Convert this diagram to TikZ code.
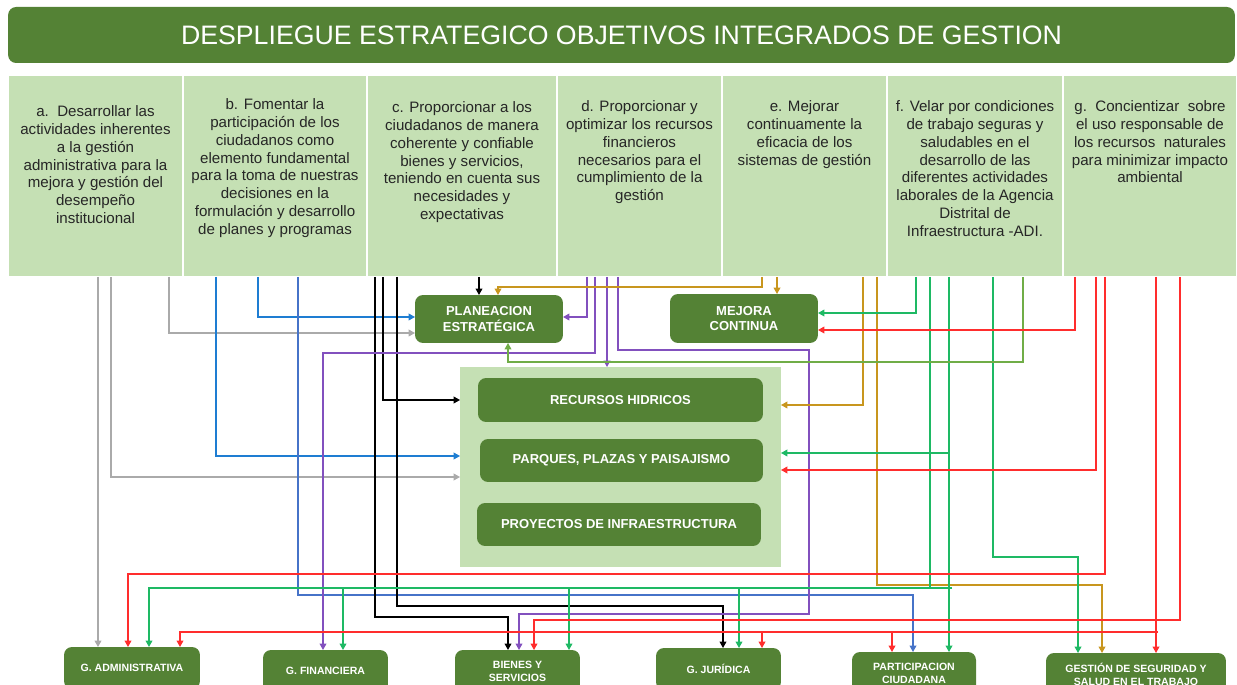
\documentclass[tikz,border=0pt]{standalone}
\usepackage{fontspec}
\setmainfont{Liberation Sans}
\usetikzlibrary{arrows.meta,positioning}

\definecolor{darkg}{RGB}{84,130,53}
\definecolor{lightg}{RGB}{197,224,180}
\definecolor{cgray}{RGB}{170,170,170}
\definecolor{cblue}{RGB}{30,125,210}
\definecolor{cblueb}{RGB}{70,115,200}
\definecolor{cpurple}{RGB}{130,80,190}
\definecolor{cgold}{RGB}{200,150,30}
\definecolor{cgreen}{RGB}{30,185,100}
\definecolor{clime}{RGB}{112,173,71}
\definecolor{cred}{RGB}{255,45,45}

\tikzset{
  col/.style={fill=lightg,draw=white,line width=1pt,minimum height=4.04cm,inner sep=0pt,outer sep=0pt},
  coltext/.style={anchor=north,align=center,inner sep=0pt,text=black!85,font=\fontsize{8.6}{10.2}\selectfont},
  box/.style={fill=darkg,rounded corners=0.16cm,text=white,align=center,inner sep=0pt,outer sep=0pt,font=\bfseries\fontsize{7.4}{8.6}\selectfont},
  bbox/.style={box,anchor=north,minimum height=0.84cm,font=\bfseries\fontsize{6}{7.4}\selectfont},
  link/.style={line width=0.75pt,-{Triangle[length=3.6pt,width=3.8pt]}},
  seg/.style={line width=0.75pt}
}

\begin{document}
\begin{tikzpicture}[x=0.02cm,y=-0.02cm]
\useasboundingbox (0,0) rectangle (1237,685);

\node[fill=darkg,rounded corners=0.16cm,minimum width=24.54cm,minimum height=1.12cm,text=white,font=\fontsize{15.2}{18}\selectfont] (title) at (621.5,35) {DESPLIEGUE ESTRATEGICO OBJETIVOS INTEGRADOS DE GESTION};

\node[col,minimum width=3.5cm] (colA) at (95.5,176) {};
\node[col,minimum width=3.68cm] (colB) at (275,176) {};
\node[col,minimum width=3.8cm] (colC) at (462,176) {};
\node[col,minimum width=3.3cm] (colD) at (639.5,176) {};
\node[col,minimum width=3.3cm] (colE) at (804.5,176) {};
\node[col,minimum width=3.52cm] (colF) at (975,176) {};
\node[col,minimum width=3.48cm] (colG) at (1150,176) {};

\node[coltext,below=0.6cm of colA.north] (txtA) {a.\ \ Desarrollar las\\actividades inherentes\\a la gestión\\administrativa para la\\mejora y gestión del\\desempeño\\institucional};
\node[coltext,below=0.46cm of colB.north] (txtB) {b. Fomentar la\\participación de los\\ciudadanos como\\elemento fundamental\\para la toma de nuestras\\decisiones en la\\formulación y desarrollo\\de planes y programas};
\node[coltext,below=0.52cm of colC.north] (txtC) {c. Proporcionar a los\\ciudadanos de manera\\coherente y confiable\\bienes y servicios,\\teniendo en cuenta sus\\necesidades y\\expectativas};
\node[coltext,below=0.5cm of colD.north] (txtD) {d. Proporcionar y\\optimizar los recursos\\financieros\\necesarios para el\\cumplimiento de la\\gestión};
\node[coltext,below=0.5cm of colE.north] (txtE) {e. Mejorar\\continuamente la\\eficacia de los\\sistemas de gestión};
\node[coltext,below=0.5cm of colF.north] (txtF) {f. Velar por condiciones\\de trabajo seguras y\\saludables en el\\desarrollo de las\\diferentes actividades\\laborales de la Agencia\\Distrital de\\Infraestructura -ADI.};
\node[coltext,below=0.5cm of colG.north] (txtG) {g.\ \ Concientizar\ \ sobre\\el uso responsable de\\los recursos\ \ naturales\\para minimizar impacto\\ambiental};

\node[box,minimum width=2.96cm,minimum height=0.96cm] (planea) at (489,319) {PLANEACION\\ESTRATÉGICA};
\node[box,minimum width=2.96cm,minimum height=0.98cm] (mejora) at (744,318.5) {MEJORA\\CONTINUA};

\node[fill=lightg,minimum width=6.42cm,minimum height=4cm,inner sep=0pt,outer sep=0pt] (panel) at (620.5,467) {};
\node[box,minimum width=5.7cm,minimum height=0.88cm] (recursos) at (620.5,400) {RECURSOS HIDRICOS};
\node[box,minimum width=5.66cm,minimum height=0.86cm] (parques) at (621.5,460.5) {PARQUES, PLAZAS Y PAISAJISMO};
\node[box,minimum width=5.68cm,minimum height=0.86cm] (proyectos) at (619,524.5) {PROYECTOS DE INFRAESTRUCTURA};

\node[bbox,minimum width=2.72cm] (gadm) at (132,647) {G. ADMINISTRATIVA};
\node[bbox,minimum width=2.5cm] (gfin) at (325.5,650) {G. FINANCIERA};
\node[bbox,minimum width=2.5cm] (bienes) at (517.5,650) {BIENES Y\\SERVICIOS};
\node[bbox,minimum width=2.5cm] (gjur) at (718.5,648) {G. JURÍDICA};
\node[bbox,minimum width=2.48cm] (partic) at (914,652) {PARTICIPACION\\CIUDADANA};
\node[bbox,minimum width=3.6cm] (gsst) at (1136,653) {GESTIÓN DE SEGURIDAD Y\\SALUD EN EL TRABAJO};

\draw[link,cgray] (98,0 |- colA.south) -- (98,0 |- gadm.north);
\draw[link,cgray] (111,0 |- colA.south) |- (panel.west |- 0,477);
\draw[link,cgray] (169,0 |- colA.south) |- (planea.west |- 0,333);

\draw[link,cblue] (216,0 |- colB.south) |- (panel.west |- 0,456);
\draw[link,cblue] (258,0 |- colB.south) |- (planea.west |- 0,317);
\draw[link,cblueb] (298,0 |- colB.south) -- (298,595) -| (913,0 |- partic.north);

\draw[link,black] (375,0 |- colC.south) -- (375,617) -| (508,0 |- bienes.north);
\draw[link,black] (383,0 |- colC.south) |- (panel.west |- 0,400);
\draw[link,black] (397,0 |- colC.south) -- (397,606) -| (723,0 |- gjur.north);
\draw[link,black] (479,0 |- colC.south) -- (479,0 |- planea.north);

\draw[link,cpurple] (587,0 |- colD.south) |- (planea.east |- 0,317);
\draw[link,cpurple] (595,0 |- colD.south) -- (595,353) -| (323,0 |- gfin.north);
\draw[link,cpurple] (607,0 |- colD.south) -- (607,0 |- panel.north);
\draw[link,cpurple] (618,0 |- colD.south) -- (618,350) -| (809,614) -| (519,0 |- bienes.north);

\draw[link,cgold] (762,0 |- colE.south) -- (762,287) -| (498,0 |- planea.north);
\draw[link,cgold] (777,0 |- colE.south) -- (777,0 |- mejora.north);
\draw[link,cgold] (863,0 |- colE.south) |- (panel.east |- 0,405);
\draw[link,cgold] (877,0 |- colE.south) -- (877,585) -| (1102,0 |- gsst.north);

\draw[link,cgreen] (916,0 |- colF.south) |- (mejora.east |- 0,313);
\draw[seg,cgreen] (930,0 |- colF.south) -- (930,588);
\draw[link,cgreen] (952,588) -- (149,588) -- (149,0 |- gadm.north);
\foreach \x/\n in {343/gfin,569/bienes,739/gjur}
  \draw[link,cgreen] (\x,588) -- (\x,0 |- \n.north);
\draw[link,cgreen] (949,0 |- colF.south) -- (949,0 |- partic.north);
\draw[link,cgreen] (949,453) -- (panel.east |- 0,453);
\draw[link,cgreen] (993,0 |- colF.south) -- (993,557) -| (1078,0 |- gsst.north);
\draw[link,clime] (1023,0 |- colF.south) -- (1023,362) -| (508,0 |- planea.south);

\draw[link,cred] (1075,0 |- colG.south) |- (mejora.east |- 0,330);
\draw[link,cred] (1096,0 |- colG.south) |- (panel.east |- 0,470);
\draw[link,cred] (1105,0 |- colG.south) -- (1105,574) -| (128,0 |- gadm.north);
\draw[link,cred] (1156,0 |- colG.south) -- (1156,0 |- gsst.north);
\draw[link,cred] (1158,632) -- (180,632) -- (180,0 |- gadm.north);
\foreach \x/\n in {762/gjur,892/partic}
  \draw[link,cred] (\x,632) -- (\x,0 |- \n.north);
\draw[link,cred] (1180,0 |- colG.south) -- (1180,620) -| (534,0 |- bienes.north);
\end{tikzpicture}
\end{document}
